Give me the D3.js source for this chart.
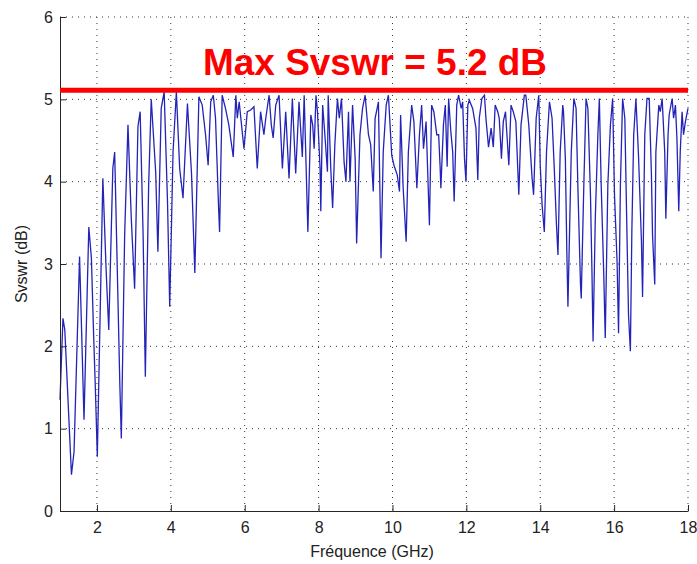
<!DOCTYPE html>
<html>
<head>
<meta charset="utf-8">
<script src="https://cdn.jsdelivr.net/npm/d3@7"></script>
<style>
  body { margin: 0; background: #fff; }
  text { font-family: "Liberation Sans", Arial, sans-serif; }
</style>
</head>
<body>
<script>
// Svswr measured over frequency, with the max level drawn as a red line

// frequency of each point (GHz)
var freqGHz = [
  1.00, 1.08, 1.13, 1.31, 1.38, 1.53, 1.65, 1.78, 1.85, 1.91, 1.96, 2.01, 2.16, 2.25, 2.32, 2.43, 2.48, 2.53, 2.62, 2.66,
  2.75, 2.84, 2.93, 3.02, 3.11, 3.17, 3.25, 3.31, 3.40, 3.47, 3.59, 3.65, 3.74, 3.82, 3.91, 3.97, 4.06, 4.15, 4.24, 4.33,
  4.45, 4.56, 4.65, 4.76, 4.85, 4.94, 5.01, 5.08, 5.15, 5.21, 5.29, 5.32, 5.39, 5.48, 5.57, 5.69, 5.76, 5.80, 5.85, 5.98,
  6.07, 6.16, 6.25, 6.34, 6.43, 6.52, 6.57, 6.66, 6.72, 6.77, 6.84, 6.93, 7.02, 7.11, 7.20, 7.29, 7.38, 7.47, 7.56, 7.61,
  7.71, 7.79,
  7.84, 7.88, 7.93, 7.97, 8.04, 8.06, 8.11, 8.17, 8.24, 8.26, 8.33, 8.38, 8.44, 8.51, 8.56, 8.62, 8.69, 8.74, 8.81, 8.85,
  8.92, 8.99, 9.03, 9.12, 9.19, 9.26, 9.35, 9.41, 9.48, 9.53, 9.62, 9.69, 9.75, 9.83, 9.89, 9.98, 10.04, 10.13, 10.19, 10.22,
  10.29, 10.37, 10.43, 10.52, 10.58, 10.66, 10.73, 10.79, 10.84, 10.91, 11.00, 11.06, 11.12, 11.20,
  11.25, 11.29, 11.31, 11.38, 11.43, 11.48, 11.52, 11.58, 11.63, 11.67, 11.74, 11.79, 11.86, 11.90, 11.95, 11.99, 12.04, 12.08,
  12.17, 12.26, 12.31, 12.35, 12.42, 12.49, 12.53, 12.60, 12.67, 12.73, 12.78, 12.85, 12.89, 12.95, 13.00, 13.06, 13.15, 13.21,
  13.27, 13.34, 13.42, 13.48, 13.57, 13.61, 13.69, 13.78, 13.82, 13.89, 13.96, 14.00, 14.05, 14.11, 14.17, 14.25, 14.32, 14.38,
  14.44, 14.48, 14.54, 14.61,
  14.63, 14.68, 14.72, 14.75, 14.84, 14.91, 14.97, 15.02, 15.09, 15.11, 15.18, 15.24, 15.29, 15.36, 15.40, 15.43, 15.49, 15.56,
  15.60, 15.65, 15.72, 15.76, 15.83, 15.90, 15.96, 16.01, 16.08, 16.12, 16.17, 16.23, 16.29, 16.35, 16.39, 16.44, 16.48, 16.53,
  16.59, 16.66, 16.74, 16.77, 16.83, 16.89, 16.95, 17.01, 17.04, 17.10, 17.13, 17.21, 17.25, 17.30, 17.37, 17.40, 17.46, 17.49,
  17.57, 17.61, 17.66, 17.70, 17.75, 17.79, 17.84, 17.88, 17.93, 18.00
];

// Svswr (dB) at each frequency
var svswrDb = [
  1.35, 2.34, 2.20, 0.44, 0.72, 3.09, 1.11, 3.45, 3.07, 2.14, 1.45, 0.66, 4.04, 2.91, 2.20, 4.16, 4.36, 3.35, 1.53, 0.88,
  3.35, 4.69, 3.55, 2.70, 4.67, 4.85, 3.35, 1.63, 3.96, 5.00, 4.12, 3.15, 4.89, 5.09, 3.76, 2.48, 4.36, 5.09, 4.16, 3.80,
  4.95, 4.10, 2.89, 5.03, 4.93, 4.57, 4.20, 4.97, 5.05, 4.77, 3.72, 3.39, 5.05, 4.89, 4.69, 4.30, 5.05, 4.77, 4.97, 4.40,
  4.85, 4.87, 4.91, 4.16, 4.85, 4.57, 4.77, 5.05, 4.69, 4.53, 4.93, 5.05, 4.16, 4.85, 4.04, 5.01, 4.10, 4.97, 4.30, 5.05,
  3.39, 4.81,
  4.69, 4.40, 5.05, 4.85, 4.16, 3.64, 4.93, 4.57, 4.12, 5.05, 4.16, 3.68, 4.45, 5.01, 4.77, 5.01, 4.24, 4.00, 4.85, 4.00,
  4.93, 4.28, 3.25, 4.57, 4.89, 5.05, 4.57, 4.45, 3.88, 4.77, 4.97, 3.07, 4.36, 4.93, 5.05, 4.32, 4.20, 4.08, 3.88, 4.81,
  3.92, 3.27, 4.36, 4.93, 4.73, 3.92, 4.57, 4.93, 4.40, 4.73, 3.47, 4.93, 4.85, 4.57,
  4.57, 4.18, 3.92, 4.69, 4.93, 4.18, 5.01, 4.61, 4.36, 3.76, 4.93, 5.05, 4.89, 4.97, 4.28, 4.00, 4.93, 4.99,
  4.89, 4.65, 4.02, 4.77, 5.01, 5.05, 4.77, 4.42, 4.65, 4.42, 4.93, 4.85, 4.77, 4.28, 4.73, 4.85, 4.20, 4.93,
  4.85, 4.73, 3.84, 4.69, 5.05, 5.05, 4.69, 4.04, 3.84, 4.77, 5.05, 4.20, 3.72, 3.39, 4.36, 4.97, 4.77, 4.16,
  3.47, 3.11, 4.36, 4.93,
  4.85, 4.28, 3.15, 2.48, 4.36, 5.01, 4.89, 3.92, 2.75, 2.58, 3.96, 5.01, 4.89, 3.84, 2.91, 2.06, 3.55, 4.57,
  5.01, 3.96, 2.87, 2.10, 3.96, 4.69, 5.01, 3.84, 3.03, 2.16, 3.96, 5.01, 4.77, 3.31, 2.38, 1.94, 3.39, 4.57,
  5.01, 4.32, 3.27, 2.60, 4.57, 5.01, 5.01, 4.08, 3.35, 2.75, 4.36, 4.93, 4.85, 5.01, 4.36, 3.55, 4.57, 4.81,
  5.01, 4.77, 4.93, 4.53, 3.64, 4.36, 4.85, 4.57, 4.73, 4.89
];

var xTicks = [2, 4, 6, 8, 10, 12, 14, 16, 18];
var yTicks = [0, 1, 2, 3, 4, 5, 6];
var maxLevel = 5.11;
var maxLabel = "Max Svswr = 5.2 dB";
var xLabel = "Fréquence (GHz)";
var yLabel = "Svswr (dB)";

window.onload = function()
{
  var margin = {top: 17, right: 9, bottom: 53, left: 60},
      width = 697 - margin.left - margin.right,
      height = 564 - margin.top - margin.bottom;

  var svg = d3.select("body").append("svg")
      .attr("width", 697)
      .attr("height", 564)
    .append("g")
      .attr("transform", "translate(" + margin.left + "," + margin.top + ")");

  var x = d3.scaleLinear().domain([1, 18]).range([0, width]);
  var y = d3.scaleLinear().domain([0, 6]).range([height, 0]);

  // dotted grid, also makes the top and right edges
  svg.append("g").selectAll("line")
      .data(xTicks)
    .enter().append("line")
      .attr("x1", function(d) { return x(d); })
      .attr("x2", function(d) { return x(d); })
      .attr("y1", 0)
      .attr("y2", height)
      .attr("stroke", "#333")
      .attr("stroke-dasharray", "1,5");

  svg.append("g").selectAll("line")
      .data(yTicks.slice(1))
    .enter().append("line")
      .attr("x1", 0)
      .attr("x2", width)
      .attr("y1", function(d) { return y(d); })
      .attr("y2", function(d) { return y(d); })
      .attr("stroke", "#333")
      .attr("stroke-dasharray", "1,5");

  // data line
  var points = freqGHz.map(function(f, i) { return [f, svswrDb[i]]; });
  var line = d3.line()
      .x(function(d) { return x(d[0]); })
      .y(function(d) { return y(d[1]); });

  svg.append("path")
      .datum(points)
      .attr("fill", "none")
      .attr("stroke", "#2323b8")
      .attr("stroke-width", 1.3)
      .attr("d", line);

  // axes with inward ticks
  var xAxis = d3.axisBottom(x).tickValues(xTicks).tickFormat(d3.format("d"))
      .tickSizeInner(-6).tickSizeOuter(0).tickPadding(11);
  var yAxis = d3.axisLeft(y).tickValues(yTicks).tickFormat(d3.format("d"))
      .tickSizeInner(-6).tickSizeOuter(0).tickPadding(7);

  var gx = svg.append("g")
      .attr("transform", "translate(0," + height + ")")
      .call(xAxis);
  var gy = svg.append("g").call(yAxis);

  [gx, gy].forEach(function(g) {
    g.select(".domain").attr("stroke", "#262626");
    g.selectAll(".tick line").attr("stroke", "#262626");
    g.selectAll(".tick text")
        .attr("fill", "#222")
        .style("font-size", "16px")
        .style("font-family", "'Liberation Sans', Arial, sans-serif");
  });

  // max level line and its label
  svg.append("line")
      .attr("x1", x(1))
      .attr("x2", x(18))
      .attr("y1", y(maxLevel))
      .attr("y2", y(maxLevel))
      .attr("stroke", "#ff0000")
      .attr("stroke-width", 5);

  svg.append("text")
      .attr("x", 315)
      .attr("y", 58)
      .style("text-anchor", "middle")
      .style("font-size", "36px")
      .style("font-weight", "bold")
      .attr("textLength", 344)
      .attr("lengthAdjust", "spacingAndGlyphs")
      .attr("fill", "#ff0000")
      .text(maxLabel);

  // axis titles
  svg.append("text")
      .attr("x", 312)
      .attr("y", height + 46)
      .style("text-anchor", "middle")
      .style("font-size", "16px")
      .attr("fill", "#222")
      .text(xLabel);

  svg.append("text")
      .attr("transform", "rotate(-90)")
      .attr("x", -height / 2)
      .attr("y", -33)
      .style("text-anchor", "middle")
      .style("font-size", "16px")
      .attr("fill", "#222")
      .text(yLabel);
};
</script>
</body>
</html>
